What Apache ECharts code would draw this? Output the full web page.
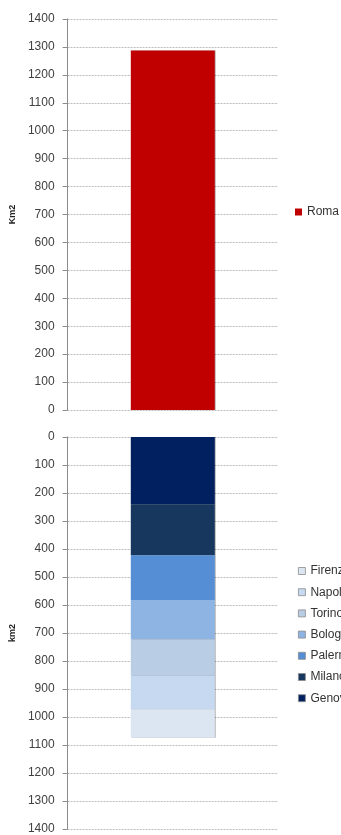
<!DOCTYPE html>
<html>
<head>
<meta charset="utf-8">
<script src="https://cdn.jsdelivr.net/npm/echarts@6/dist/echarts.min.js"></script>
<style>
  html, body { margin: 0; padding: 0; background: #fff; }
  #chart { width: 341px; height: 835px; }
</style>
</head>
<body>
<div id="chart"></div>
<script>
// Surface area of Italian municipalities (km²)
const category = [''];
const romaName = 'Roma';
const romaArea = [1287];

// Stacked from the top of the inverted axis downwards
const stackNames = ['Genova', 'Milano', 'Palermo', 'Bologna', 'Torino', 'Napoli', 'Firenze'];
const stackAreas = [240, 182, 160, 141, 130, 119, 102];
const stackColors = ['#002060', '#17375E', '#558ED5', '#8EB4E3', '#B9CDE5', '#C6D9F1', '#DCE6F2'];
const legendOrder = ['Firenze', 'Napoli', 'Torino', 'Bologna', 'Palermo', 'Milano', 'Genova'];

const axisMin = 0, axisMax = 1400, axisStep = 100;

const font = 'Liberation Sans, Arial, sans-serif';

function valueAxis(gridIndex, name, inverse) {
  return {
    type: 'value',
    gridIndex: gridIndex,
    min: axisMin, max: axisMax, interval: axisStep,
    inverse: inverse,
    name: name,
    nameLocation: 'middle',
    nameGap: 48,
    nameRotate: 90,
    nameTextStyle: { fontFamily: font, fontSize: 9, fontWeight: 'bold', color: '#222' },
    axisLine: { show: true, lineStyle: { color: '#8c8c8c', width: 1 } },
    axisTick: { show: true, inside: false, length: 5, lineStyle: { color: '#8c8c8c' } },
    axisLabel: {
      fontFamily: font, fontSize: 12, color: '#404040', margin: 13,
      formatter: v => String(v)
    },
    splitLine: { show: true, lineStyle: { color: '#bdbdbd', type: [2, 1], width: 1 } }
  };
}

function categoryAxis(gridIndex) {
  return {
    type: 'category',
    gridIndex: gridIndex,
    data: category,
    axisLine: { show: false },
    axisTick: { show: false },
    axisLabel: { show: false }
  };
}

const barShadow = {
  shadowColor: 'rgba(0,0,0,0.28)',
  shadowBlur: 0,
  shadowOffsetX: 1,
  shadowOffsetY: 0
};

const series = [{
  name: romaName,
  type: 'bar',
  xAxisIndex: 0, yAxisIndex: 0,
  data: romaArea,
  barWidth: 84,
  itemStyle: Object.assign({ color: '#C00000' }, barShadow)
}];

stackNames.forEach((n, i) => {
  series.push({
    name: n,
    type: 'bar',
    stack: 'comuni',
    xAxisIndex: 1, yAxisIndex: 1,
    data: [stackAreas[i]],
    barWidth: 84,
    itemStyle: Object.assign({ color: stackColors[i] }, barShadow)
  });
});

const legendText = { fontFamily: font, fontSize: 12, color: '#333', lineHeight: 14 };

const chart = echarts.init(document.getElementById('chart'), null, { renderer: 'canvas' });
chart.setOption({
  animation: false,
  backgroundColor: '#fff',
  grid: [
    { left: 66, right: 63, top: 19, height: 391, containLabel: false },
    { left: 66, right: 63, top: 437, height: 393, containLabel: false }
  ],
  xAxis: [categoryAxis(0), categoryAxis(1)],
  yAxis: [valueAxis(0, 'Km2', false), valueAxis(1, 'km2', true)],
  legend: [
    {
      data: [romaName],
      orient: 'vertical',
      left: 295, top: 205, padding: 0,
      icon: 'rect', itemWidth: 7, itemHeight: 7, itemGap: 6,
      textStyle: legendText,
      itemStyle: { borderWidth: 0 }
    },
    {
      data: legendOrder,
      orient: 'vertical',
      left: 298, top: 564, padding: 0,
      icon: 'rect', itemWidth: 7, itemHeight: 7, itemGap: 7.2,
      textStyle: legendText,
      itemStyle: { borderColor: '#8c8c8c', borderWidth: 0.8 }
    }
  ],
  series: series
});
</script>
</body>
</html>
